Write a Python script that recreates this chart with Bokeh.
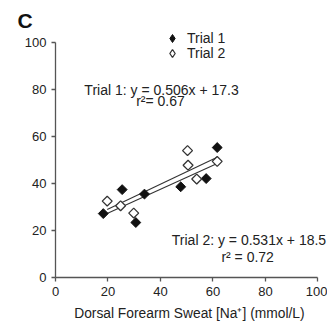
import math
from bokeh.plotting import figure
from bokeh.models import Label, Legend, LegendItem, Range1d
from bokeh.embed import file_html
from bokeh.resources import INLINE

# ---- data ----
trial1_x = [18.2, 25.4, 30.6, 33.9, 47.7, 57.4, 61.6]
trial1_y = [27.2, 37.4, 23.4, 35.5, 38.6, 42.1, 55.3]
trial2_x = [19.7, 24.8, 29.8, 50.3, 50.5, 53.8, 61.6]
trial2_y = [32.5, 30.5, 27.4, 54.0, 47.8, 41.9, 49.4]

trial1_slope, trial1_intercept, trial1_r2 = 0.506, 17.3, "0.67"
trial2_slope, trial2_intercept, trial2_r2 = 0.531, 18.5, "0.72"

x_ticks = [0, 20, 40, 60, 80, 100]
y_ticks = [0, 20, 40, 60, 80, 100]
x_title = "Dorsal Forearm Sweat [Na\u207a] (mmol/L)"

FONT = "Liberation Sans"
TXT = "#222222"
AX = "#555555"

# The frame covers the whole canvas; both axes are pinned at 0 and drawn over 0..100
p = figure(width=327, height=323, output_backend="svg", toolbar_location=None,
           x_range=Range1d(-20.95, 103.62), y_range=Range1d(-19.57, 117.87),
           min_border_left=0, min_border_right=0, min_border_top=0, min_border_bottom=0)
p.outline_line_color = None
p.grid.visible = False
p.background_fill_color = "white"
p.border_fill_color = "white"

for ax in (p.xaxis[0], p.yaxis[0]):
    ax.axis_line_color = AX
    ax.axis_line_width = 1.3
    ax.major_tick_line_color = AX
    ax.major_tick_line_width = 1.3
    ax.major_tick_out = 4
    ax.major_tick_in = 0
    ax.minor_tick_out = 0
    ax.minor_tick_in = 0
    ax.major_label_text_font = FONT
    ax.major_label_text_font_size = "13px"
    ax.major_label_text_color = TXT
    ax.major_label_standoff = 5
    ax.bounds = (0, 100)
    ax.fixed_location = 0
p.xaxis.ticker = x_ticks
p.yaxis.ticker = y_ticks

# x axis title, centred under the drawn axis
p.add_layout(Label(x=51.0, y=-15.2, text=x_title, text_align="center", text_baseline="middle",
                   text_font=FONT, text_font_size="13.8px", text_color=TXT))

# panel letter
p.add_layout(Label(x=-14.5, y=109.15, text="C", text_align="left", text_baseline="middle",
                   text_font=FONT, text_font_size="21px", text_font_style="bold",
                   text_color="#111111"))

# trend lines
fx1 = [min(trial1_x), max(trial1_x)]
fy1 = [trial1_slope * v + trial1_intercept for v in fx1]
fx2 = [min(trial2_x), max(trial2_x)]
fy2 = [trial2_slope * v + trial2_intercept for v in fx2]
p.line(fx1, fy1, line_color="#333333", line_width=1.1)
p.line(fx2, fy2, line_color="#333333", line_width=1.1)

# small diamonds used as legend glyphs (drawn beneath the data diamonds)
l1 = p.scatter(trial1_x, trial1_y, marker="diamond", size=6,
               fill_color="#111111", line_color="#111111", line_width=1)
l2 = p.scatter(trial2_x, trial2_y, marker="diamond", size=6,
               fill_color="white", line_color="#333333", line_width=1.3)

# data points (square diamonds)
p.scatter(trial1_x, trial1_y, marker="square", size=7, angle=math.pi / 4,
          fill_color="#111111", line_color="#111111", line_width=1)
p.scatter(trial2_x, trial2_y, marker="square", size=7, angle=math.pi / 4,
          fill_color="white", line_color="#333333", line_width=1.3)

def make_legend(label, r, loc):
    return Legend(items=[LegendItem(label=label, renderers=[r])],
                  location=loc, orientation="vertical", padding=0, margin=0, spacing=0,
                  glyph_width=20, glyph_height=20, label_height=20, label_standoff=5,
                  border_line_color=None, background_fill_alpha=0,
                  label_text_font=FONT, label_text_font_size="14px", label_text_color=TXT)

# legend locations are pixels from the frame's bottom-left corner (frame bottom = canvas bottom)
p.add_layout(make_legend("Trial 1", l1, (162, 275)), "center")
p.add_layout(make_legend("Trial 2", l2, (162, 260)), "center")

# equation labels
def lab(x, y, t):
    p.add_layout(Label(x=x, y=y, text=t, text_align="center", text_baseline="middle",
                       text_font=FONT, text_font_size="14px", text_color=TXT))

lab(40.4, 79.9, f"Trial 1: y = {trial1_slope}x + {trial1_intercept}")
lab(40.0, 75.2, f"r\u00b2= {trial1_r2}")
lab(73.7, 16.0, f"Trial 2: y = {trial2_slope}x + {trial2_intercept}")
lab(73.2, 8.7, f"r\u00b2 = {trial2_r2}")

open("out.html", "w").write(file_html(p, INLINE))
